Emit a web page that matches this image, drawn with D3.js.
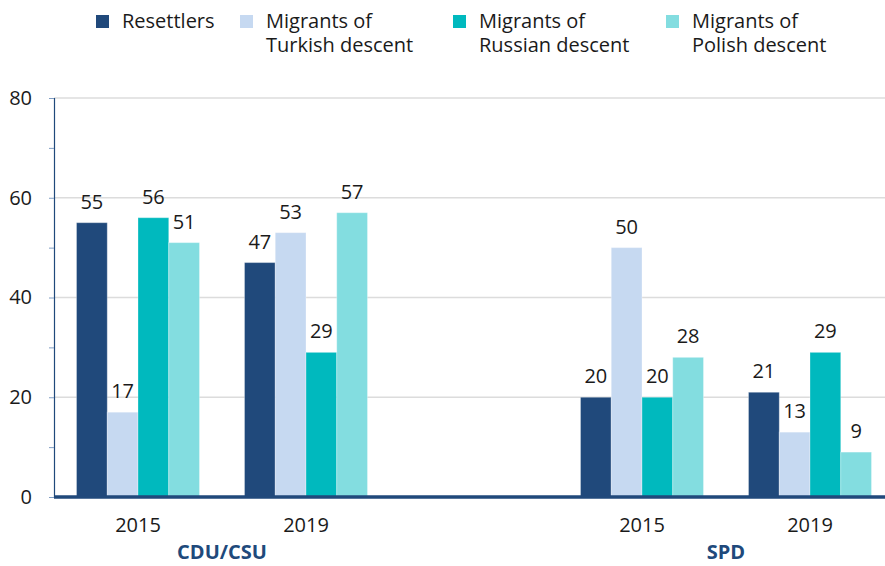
<!DOCTYPE html>
<html>
<head>
<meta charset="utf-8">
<script src="https://cdn.jsdelivr.net/npm/d3@7"></script>
<style>
  body { margin: 0; background: #fff; }
  svg { font-family: "Open Sans", sans-serif; }
</style>
</head>
<body>
<script>
'use strict';

// groups along the x axis (empty slot between the two parties)
const slots = ["CDU/CSU 2015", "CDU/CSU 2019", "gap", "SPD 2015", "SPD 2019"];
const groups = ["CDU/CSU 2015", "CDU/CSU 2019", "SPD 2015", "SPD 2019"];
const years = ["2015", "2019", "2015", "2019"];
const parties = ["CDU/CSU", "SPD"];
const series = ["Resettlers", "Migrants of Turkish descent", "Migrants of Russian descent", "Migrants of Polish descent"];
const legendLines = [["Resettlers"], ["Migrants of", "Turkish descent"], ["Migrants of", "Russian descent"], ["Migrants of", "Polish descent"]];
const colors = ["#20497b", "#c6d9f1", "#00b9be", "#83dde0"];
// values per group, one row per group, in series order
const values = [
  [55, 17, 56, 51],
  [47, 53, 29, 57],
  [20, 50, 20, 28],
  [21, 13, 29, 9]
];
const yTicks = [0, 20, 40, 60, 80];

const width = 885, height = 566;
const margin = {top: 98, right: 0, bottom: 69, left: 54};

const svg = d3.select("body").append("svg")
  .attr("width", width)
  .attr("height", height);

const x = d3.scaleBand()
  .domain(slots)
  .range([margin.left, 894])
  .paddingInner(0.268)
  .paddingOuter(0.134);

const xInner = d3.scaleBand()
  .domain(series)
  .range([0, x.bandwidth()]);

const y = d3.scaleLinear()
  .domain([0, 80])
  .range([height - margin.bottom, margin.top]);

// gridlines
svg.append("g")
  .selectAll("line")
  .data(yTicks.slice(1))
  .enter().append("line")
    .attr("x1", margin.left)
    .attr("x2", width)
    .attr("y1", d => y(d))
    .attr("y2", d => y(d))
    .attr("stroke", "#dcdcdc")
    .attr("stroke-width", 1.5);

// y axis with minor ticks every 10
const yAxis = svg.append("g")
  .attr("transform", "translate(" + margin.left + ",0)")
  .call(d3.axisLeft(y).tickValues(d3.range(0, 81, 10)).tickSize(5).tickFormat(d => d % 20 === 0 ? d : ""));
yAxis.select(".domain").attr("stroke", "#20497b").attr("stroke-width", 1.2);
yAxis.selectAll(".tick line").attr("stroke", "#7f9cc2");
yAxis.selectAll(".tick text")
  .attr("x", -22)
  .attr("fill", "#1a1a1a")
  .attr("font-size", "20px")
  .attr("font-family", "Open Sans, sans-serif");

// bars
const grp = svg.append("g").selectAll("g")
  .data(groups)
  .enter().append("g")
    .attr("transform", d => "translate(" + x(d) + ",0)");

grp.selectAll("rect")
  .data((g, i) => values[i].map((v, j) => ({s: series[j], v: v, c: colors[j]})))
  .enter().append("rect")
    .attr("x", d => xInner(d.s))
    .attr("width", xInner.bandwidth())
    .attr("y", d => y(d.v))
    .attr("height", d => y(0) - y(d.v))
    .attr("fill", d => d.c)
    .attr("stroke", "rgba(255,255,255,0.3)")
    .attr("stroke-width", 1);

grp.selectAll("text.val")
  .data((g, i) => values[i].map((v, j) => ({s: series[j], v: v})))
  .enter().append("text")
    .attr("class", "val")
    .attr("x", d => xInner(d.s) + xInner.bandwidth() / 2)
    .attr("y", d => y(d.v) - 14)
    .attr("text-anchor", "middle")
    .attr("font-size", "20px")
    .attr("fill", "#1a1a1a")
    .text(d => d.v);

// baseline
svg.append("line")
  .attr("x1", margin.left)
  .attr("x2", width)
  .attr("y1", y(0))
  .attr("y2", y(0))
  .attr("stroke", "#20497b")
  .attr("stroke-width", 3.5);

// year labels
svg.append("g").selectAll("text")
  .data(groups)
  .enter().append("text")
    .attr("x", d => x(d) + x.bandwidth() / 2)
    .attr("y", 532)
    .attr("text-anchor", "middle")
    .attr("font-size", "20px")
    .attr("fill", "#1a1a1a")
    .text((d, i) => years[i]);

// party labels
svg.append("g").selectAll("text")
  .data(parties)
  .enter().append("text")
    .attr("x", d => (x(d + " 2015") + x(d + " 2019") + x.bandwidth()) / 2)
    .attr("y", 559)
    .attr("text-anchor", "middle")
    .attr("font-size", "20px")
    .attr("font-weight", "bold")
    .attr("fill", "#20497b")
    .text(d => d);

// legend
const legendX = [96, 240, 453, 666];
const legend = svg.append("g").selectAll("g")
  .data(series)
  .enter().append("g")
    .attr("transform", (d, i) => "translate(" + legendX[i] + ",0)");

legend.append("rect")
  .attr("x", 0)
  .attr("y", 15)
  .attr("width", 13)
  .attr("height", 13)
  .attr("fill", (d, i) => colors[i]);

legend.append("text")
  .attr("x", 26)
  .attr("y", 28)
  .attr("font-size", "20px")
  .attr("fill", "#1a1a1a")
  .selectAll("tspan")
  .data((d, i) => legendLines[i])
  .enter().append("tspan")
    .attr("x", 26)
    .attr("dy", (d, k) => k === 0 ? 0 : 24)
    .text(d => d);
</script>
</body>
</html>
